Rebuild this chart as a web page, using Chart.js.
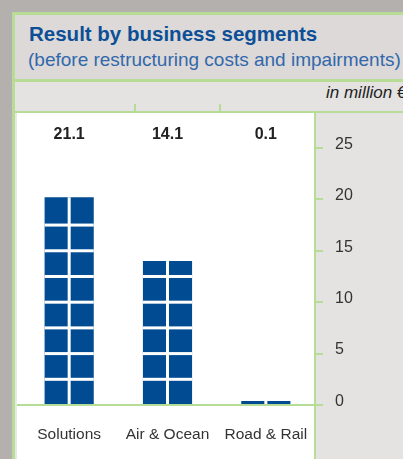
<!DOCTYPE html>
<html>
<head>
<meta charset="utf-8">
<script src="https://cdn.jsdelivr.net/npm/chart.js@4.4.0/dist/chart.umd.min.js"></script>
<style>
  html, body { margin: 0; padding: 0; }
  body {
    width: 403px; height: 459px; overflow: hidden; position: relative;
    background: #b4b0ad;
    font-family: "Liberation Sans", Arial, sans-serif;
  }
  .frame { position: absolute; left: 12px; top: 12px; width: 391px; height: 447px; background: #b7dc95; }
  .head { position: absolute; left: 15px; top: 15px; width: 388px; height: 64px; background: #dcd9d8; overflow: hidden; }
  .title { position: absolute; left: 14px; top: 9px; font-size: 20.5px; line-height: 20px; font-weight: bold; color: #0d4f96; white-space: nowrap; }
  .sub { position: absolute; left: 13px; top: 35px; font-size: 19px; line-height: 19px; color: #3268ab; white-space: nowrap; }
  .unitrow { position: absolute; left: 15px; top: 82px; width: 388px; height: 29px; background: #e4e3e1; overflow: hidden; }
  .unit { position: absolute; left: 311px; top: 2px; font-size: 17px; line-height: 17px; font-style: italic; color: #222; white-space: nowrap; }
  .tick { position: absolute; top: 104px; width: 2px; height: 7px; background: #b7dc95; }
  .panel {
    position: absolute; left: 15px; top: 113px; width: 388px; height: 346px;
    background: linear-gradient(to right, #e8e8e6 0 2px, #ffffff 2px 299px, #b7dc95 299px 301px, #e4e3e1 301px);
  }
  #wrap { position: absolute; left: 17px; top: 113px; width: 386px; height: 346px; }
</style>
</head>
<body>
<div class="frame"></div>
<div class="head">
  <div class="title">Result by business segments</div>
  <div class="sub">(before restructuring costs and impairments)</div>
</div>
<div class="unitrow"><div class="unit">in million €</div></div>
<div class="tick" style="left:134px"></div>
<div class="tick" style="left:219px"></div>
<div class="panel"></div>
<div id="wrap"><canvas id="chart"></canvas></div>

<script>
// segments and their results (in million €)
const segments = ['Solutions', 'Air & Ocean', 'Road & Rail'];
const valueLabels = ['21.1', '14.1', '0.1'];
// bar heights as drawn in the picture
const barValues = [20.2, 14.0, 0.4];
const yTicks = [0, 5, 10, 15, 20, 25];
const yMax = 28.4;
const blockStep = 2.5;

const green = '#b7dc95';
const blue = '#004b91';

// white gaps that cut the bars into blocks, and the value labels above
const blocksPlugin = {
    id: 'blocks',
    afterDatasetsDraw(chart) {
        const ctx = chart.ctx;
        const yScale = chart.scales.y;
        const meta = chart.getDatasetMeta(0);
        ctx.save();
        ctx.fillStyle = '#ffffff';
        meta.data.forEach(bar => {
            const p = bar.getProps(['x', 'y', 'base', 'width'], true);
            ctx.fillRect(p.x - 1.5, p.y, 3, p.base - p.y);
            for (let v = blockStep; yScale.getPixelForValue(v) > p.y + 4; v += blockStep) {
                const py = yScale.getPixelForValue(v);
                ctx.fillRect(p.x - p.width / 2, py - 1.5, p.width, 3);
            }
        });
        // value labels
        ctx.fillStyle = '#222';
        ctx.font = 'bold 16px "Liberation Sans", Arial, sans-serif';
        ctx.textAlign = 'center';
        ctx.textBaseline = 'middle';
        meta.data.forEach((bar, i) => {
            ctx.fillText(valueLabels[i], bar.x, chart.chartArea.top + 22);
        });
        // baseline
        const y0 = yScale.getPixelForValue(0);
        ctx.strokeStyle = green;
        ctx.lineWidth = 2;
        ctx.beginPath();
        ctx.moveTo(0, y0);
        ctx.lineTo(chart.chartArea.right + 8, y0);
        ctx.stroke();
        ctx.restore();
    }
};

new Chart(document.getElementById('chart').getContext('2d'), {
    type: 'bar',
    data: {
        labels: segments,
        datasets: [{
            data: barValues,
            backgroundColor: blue,
            borderWidth: 0,
            categoryPercentage: 1,
            barPercentage: 0.5
        }]
    },
    options: {
        responsive: true,
        maintainAspectRatio: false,
        animation: false,
        layout: { padding: { left: 3, top: 0, right: 0, bottom: 0 } },
        plugins: { legend: { display: false }, tooltip: { enabled: false } },
        scales: {
            x: {
                grid: { display: false, drawTicks: false },
                border: { display: false },
                ticks: {
                    color: '#333',
                    font: { family: '"Liberation Sans", Arial, sans-serif', size: 15.5 },
                    padding: 20,
                    maxRotation: 0
                },
                afterFit: s => { s.height = 54; s.paddingLeft = 0; s.paddingRight = 0; }
            },
            y: {
                position: 'right',
                min: 0,
                max: yMax,
                grid: { drawOnChartArea: false, color: green, lineWidth: 2, tickLength: 8 },
                border: { display: false },
                ticks: {
                    stepSize: 5,
                    color: '#333',
                    font: { family: '"Liberation Sans", Arial, sans-serif', size: 16 },
                    padding: 12,
                    labelOffset: -3.5
                },
                afterBuildTicks: s => { s.ticks = yTicks.map(v => ({ value: v })); },
                afterFit: s => { s.width = 88; s.paddingTop = 0; s.paddingBottom = 0; }
            }
        }
    },
    plugins: [blocksPlugin]
});
</script>
</body>
</html>
